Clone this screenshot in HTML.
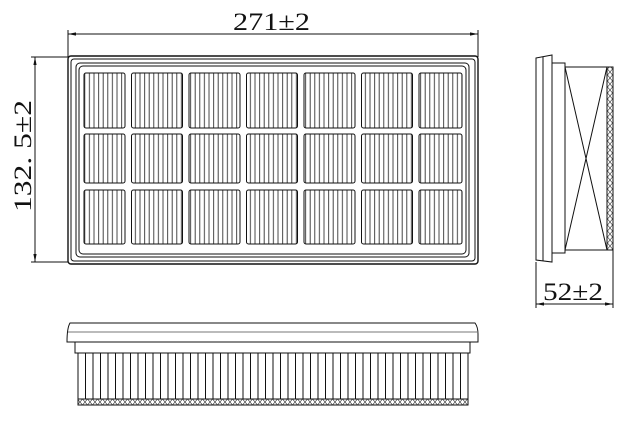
<!DOCTYPE html>
<html><head><meta charset="utf-8"><style>
html,body{margin:0;padding:0;background:#fff;}
svg{display:block;}
text{font-family:"Liberation Serif",serif;fill:#111;}
</style></head><body>
<svg width="627" height="433" viewBox="0 0 627 433" xmlns="http://www.w3.org/2000/svg">
<defs>
<pattern id="vl" width="4.6" height="10" patternUnits="userSpaceOnUse">
<line x1="2" y1="0" x2="2" y2="10" stroke="#333" stroke-width="0.9"/>
</pattern>
<pattern id="xh" width="5" height="6" patternUnits="userSpaceOnUse">
<path d="M0 0L5 6M5 0L0 6" stroke="#444" stroke-width="0.7" fill="none"/>
</pattern>
<marker id="ar" viewBox="0 0 10 10" refX="10" refY="5" markerWidth="8" markerHeight="8" orient="auto-start-reverse" markerUnits="userSpaceOnUse">
<path d="M0 3L10 5L0 7Z" fill="#111"/>
</marker>
</defs>
<g fill="none" stroke="#111" stroke-width="1">
<line x1="68" y1="34" x2="478" y2="34" marker-start="url(#ar)" marker-end="url(#ar)"/>
<line x1="68" y1="30" x2="68" y2="57"/>
<line x1="478" y1="30" x2="478" y2="57"/>
<line x1="35" y1="57" x2="35" y2="262" marker-start="url(#ar)" marker-end="url(#ar)"/>
<line x1="31" y1="57" x2="68" y2="57"/>
<line x1="31" y1="262" x2="68" y2="262"/>
<rect x="68" y="56" width="410" height="208" rx="3" stroke-width="1.4"/>
<rect x="71" y="59" width="404" height="202" rx="3"/>
<rect x="76" y="63" width="393" height="194" rx="4"/>
<rect x="79" y="66" width="387" height="188" rx="4"/>
</g>
<g stroke="#111" stroke-width="1" fill="url(#vl)">
<rect x="84" y="73" width="41" height="55" rx="2"/><rect x="131.5" y="73" width="51" height="55" rx="2"/><rect x="189" y="73" width="51" height="55" rx="2"/><rect x="246.5" y="73" width="51" height="55" rx="2"/><rect x="304" y="73" width="51" height="55" rx="2"/><rect x="361.5" y="73" width="51" height="55" rx="2"/><rect x="419" y="73" width="43" height="55" rx="2"/>
<rect x="84" y="134" width="41" height="49" rx="2"/><rect x="131.5" y="134" width="51" height="49" rx="2"/><rect x="189" y="134" width="51" height="49" rx="2"/><rect x="246.5" y="134" width="51" height="49" rx="2"/><rect x="304" y="134" width="51" height="49" rx="2"/><rect x="361.5" y="134" width="51" height="49" rx="2"/><rect x="419" y="134" width="43" height="49" rx="2"/>
<rect x="84" y="190" width="41" height="54" rx="2"/><rect x="131.5" y="190" width="51" height="54" rx="2"/><rect x="189" y="190" width="51" height="54" rx="2"/><rect x="246.5" y="190" width="51" height="54" rx="2"/><rect x="304" y="190" width="51" height="54" rx="2"/><rect x="361.5" y="190" width="51" height="54" rx="2"/><rect x="419" y="190" width="43" height="54" rx="2"/>
</g>
<g fill="none" stroke="#111" stroke-width="1">
<path d="M536 58L552 55L552 262L536 260Z"/>
<line x1="543" y1="57" x2="543" y2="261"/>
<rect x="552" y="63" width="13" height="190"/>
<rect x="565" y="67" width="48" height="183"/>
<path d="M565 67L607 250M565 250L607 67"/>
<rect x="607" y="67" width="6" height="183" fill="url(#xh)"/>
<line x1="536" y1="262" x2="536" y2="308"/>
<line x1="613" y1="250" x2="613" y2="308"/>
<line x1="536" y1="304" x2="613" y2="304" marker-start="url(#ar)" marker-end="url(#ar)"/>
<path d="M70 323L475 323Q478 327 478 334L478 342L67 342Q67 328 70 323Z"/>
<line x1="68" y1="332" x2="478" y2="332" stroke="#777"/>
<rect x="75" y="342" width="395" height="11"/>
<rect x="78" y="353" width="390" height="46"/>
<path d="M85.5 353V399M93 353V399M100.5 353V399M108 353V399M115.5 353V399M123 353V399M130.5 353V399M138 353V399M145.5 353V399M153 353V399M160.5 353V399M168 353V399M175.5 353V399M183 353V399M190.5 353V399M198 353V399M205.5 353V399M213 353V399M220.5 353V399M228 353V399M235.5 353V399M243 353V399M250.5 353V399M258 353V399M265.5 353V399M273 353V399M280.5 353V399M288 353V399M295.5 353V399M303 353V399M310.5 353V399M318 353V399M325.5 353V399M333 353V399M340.5 353V399M348 353V399M355.5 353V399M363 353V399M370.5 353V399M378 353V399M385.5 353V399M393 353V399M400.5 353V399M408 353V399M415.5 353V399M423 353V399M430.5 353V399M438 353V399M445.5 353V399M453 353V399M460.5 353V399"/>
<rect x="78" y="399" width="390" height="6" fill="url(#xh)"/>
</g>
<text x="233" y="30" font-size="25" textLength="77" lengthAdjust="spacingAndGlyphs">271±2</text>
<text transform="translate(31,212) rotate(-90)" font-size="25" textLength="112" lengthAdjust="spacingAndGlyphs">132. 5±2</text>
<text x="543" y="300" font-size="25" textLength="60" lengthAdjust="spacingAndGlyphs">52±2</text>
</svg>
</body></html>
